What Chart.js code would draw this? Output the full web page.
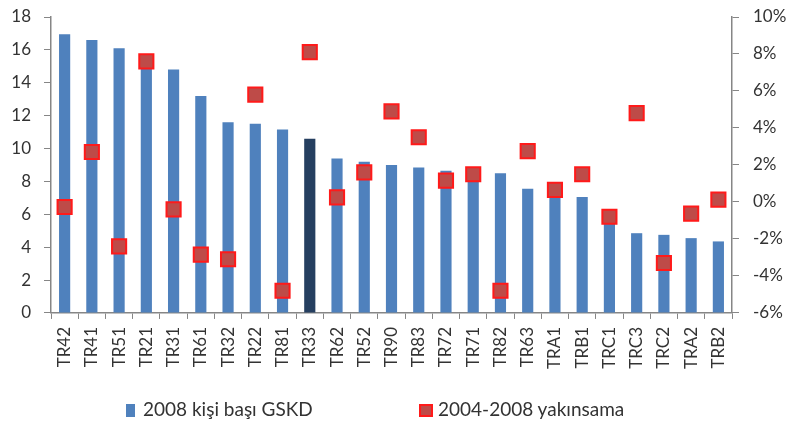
<!DOCTYPE html>
<html>
<head>
<meta charset="utf-8">
<script src="https://cdn.jsdelivr.net/npm/chart.js@4.4.0/dist/chart.umd.min.js"></script>
<style>
  body { margin: 0; background: #fff; }
  #wrap { position: relative; width: 811px; height: 427px; }
  #legend { position: absolute; top: 399px; left: 0; font-family: Lato, sans-serif; font-size: 19px; color: #333; }
  #legend span.item { position: absolute; white-space: nowrap; line-height: 20px; }
  #legend i { display: inline-block; height: 13px; vertical-align: -1px; box-sizing: border-box; }
</style>
</head>
<body>
<div id="wrap">
  <canvas id="myChart" width="811" height="427"></canvas>
  <div id="legend"></div>
</div>
<script>
var regions = ['TR42', 'TR41', 'TR51', 'TR21', 'TR31', 'TR61', 'TR32', 'TR22', 'TR81', 'TR33',
               'TR62', 'TR52', 'TR90', 'TR83', 'TR72', 'TR71', 'TR82', 'TR63', 'TRA1', 'TRB1',
               'TRC1', 'TRC3', 'TRC2', 'TRA2', 'TRB2'];
var gdp2008 = [16.95, 16.6, 16.1, 15.5, 14.8, 13.2, 11.6, 11.5, 11.15, 10.6,
               9.4, 9.2, 9.0, 8.85, 8.65, 8.6, 8.5, 7.55, 7.5, 7.05,
               6.1, 4.85, 4.75, 4.55, 4.35];
var convergence = [-0.27, 2.7, -2.4, 7.6, -0.4, -2.85, -3.1, 5.8, -4.8, 8.1,
                   0.25, 1.6, 4.9, 3.5, 1.15, 1.5, -4.8, 2.75, 0.65, 1.5,
                   -0.8, 4.8, -3.3, -0.63, 0.13];
var seriesNames = ['2008 kişi başı GSKD', '2004-2008 yakınsama'];
var leftTicks = [0, 2, 4, 6, 8, 10, 12, 14, 16, 18];
var rightTicks = [-6, -4, -2, 0, 2, 4, 6, 8, 10];

var blue = '#4F81BD';
var navy = '#253F60';
var axisGray = '#868686';

// fixed axis widths so the plot area lines up with the original
function fixWidth(w) {
    return function (s) {
        s.width = w;
        s.paddingTop = 0;
        s.paddingBottom = 0;
    };
}

function chart() {
    var ctx = document.getElementById('myChart').getContext('2d');
    Chart.defaults.font.family = 'Lato, sans-serif';
    Chart.defaults.font.size = 17;
    Chart.defaults.color = '#333';

    new Chart(ctx, {
        type: 'bar',
        data: {
            labels: regions,
            datasets: [{
                type: 'line',
                label: seriesNames[1],
                data: convergence,
                yAxisID: 'y1',
                showLine: false,
                pointStyle: 'rect',
                pointRadius: 10,
                pointHoverRadius: 10,
                pointBackgroundColor: '#BE4B48',
                pointBorderColor: '#FF1A1A',
                pointBorderWidth: 2,
                order: 0
            }, {
                label: seriesNames[0],
                data: gdp2008,
                yAxisID: 'y',
                backgroundColor: function (c) {
                    return regions[c.dataIndex] === 'TR33' ? navy : blue;
                },
                categoryPercentage: 1,
                barPercentage: 0.41,
                order: 1
            }]
        },
        options: {
            responsive: false,
            animation: false,
            layout: { padding: { left: 0, right: 0, top: 17, bottom: 50 } },
            plugins: { legend: { display: false }, tooltip: { enabled: false } },
            scales: {
                x: {
                    grid: { drawOnChartArea: false, color: axisGray, tickLength: 6 },
                    border: { color: axisGray, width: 1.5 },
                    ticks: { maxRotation: 90, minRotation: 90, autoSkip: false, padding: 8 }
                },
                y: {
                    position: 'left',
                    min: leftTicks[0],
                    max: leftTicks[leftTicks.length - 1],
                    afterBuildTicks: function (s) { s.ticks = leftTicks.map(function (v) { return { value: v }; }); },
                    afterFit: fixWidth(51),
                    grid: { drawOnChartArea: false, color: axisGray, tickLength: 7 },
                    border: { color: axisGray, width: 1.5 },
                    ticks: { padding: 13 }
                },
                y1: {
                    position: 'right',
                    min: rightTicks[0],
                    max: rightTicks[rightTicks.length - 1],
                    afterBuildTicks: function (s) { s.ticks = rightTicks.map(function (v) { return { value: v }; }); },
                    afterFit: fixWidth(79),
                    grid: { drawOnChartArea: false, color: axisGray, tickLength: 7 },
                    border: { color: axisGray, width: 1.5 },
                    ticks: { padding: 14, callback: function (v) { return v + '%'; } }
                }
            }
        }
    });

    var legend = document.getElementById('legend');
    var boxes = [
        { x: 126, w: 9, gap: 8, fill: blue, border: '1px solid ' + blue },
        { x: 419, w: 14, gap: 5, fill: '#BE4B48', border: '2px solid #FF1A1A' }
    ];
    boxes.forEach(function (b, i) {
        var it = document.createElement('span');
        it.className = 'item';
        it.style.left = b.x + 'px';
        it.innerHTML = '<i style="width:' + b.w + 'px;margin-right:' + b.gap + 'px;background:' + b.fill +
            ';border:' + b.border + '"></i>' + seriesNames[i];
        legend.appendChild(it);
    });
}
chart();
</script>
</body>
</html>
